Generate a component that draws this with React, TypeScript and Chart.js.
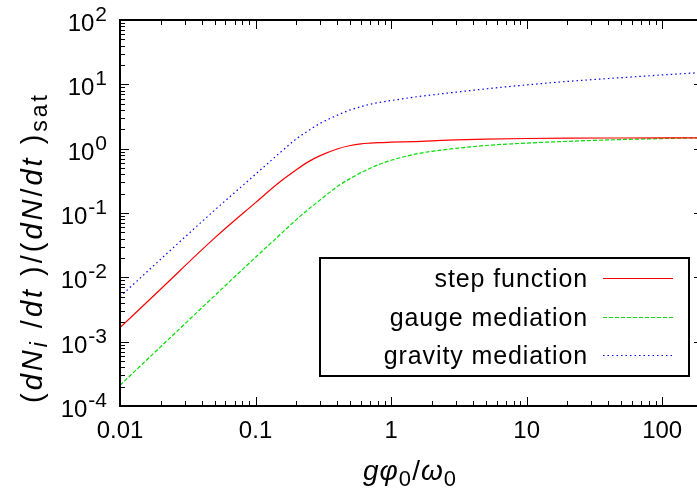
import { useEffect, useRef } from 'react';
import { Chart, registerables } from 'chart.js';
Chart.register(...registerables);

const xValues = [0.01, 0.02, 0.05, 0.1, 0.15, 0.2, 0.25, 0.3, 0.4, 0.5, 0.6, 0.7, 0.8, 1, 1.5, 2, 3, 5, 10, 20, 50, 100, 200];
const stepFunction = [0.00165, 0.0066, 0.041, 0.145, 0.3, 0.47, 0.64, 0.78, 0.99, 1.12, 1.19, 1.22, 1.24, 1.26, 1.29, 1.32, 1.37, 1.41, 1.44, 1.455, 1.465, 1.47, 1.475];
const gaugeMediation = [0.00021, 0.00084, 0.0052, 0.0205, 0.045, 0.079, 0.118, 0.16, 0.257, 0.345, 0.425, 0.495, 0.56, 0.66, 0.82, 0.91, 1.01, 1.12, 1.22, 1.3, 1.385, 1.435, 1.48];
const gravityMediation = [0.005, 0.0192, 0.111, 0.4, 0.85, 1.42, 1.95, 2.48, 3.3, 4.0, 4.5, 4.9, 5.2, 5.6, 6.35, 6.85, 7.55, 8.5, 9.8, 11.1, 12.7, 14.0, 15.3];
const seriesLabels = ['step function', 'gauge mediation', 'gravity mediation'];
const seriesColors = ['#ff0000', '#00e000', '#0000ff'];

const xTickValues = [0.01, 0.1, 1, 10, 100];
const xTickLabels = ['0.01', '0.1', '1', '10', '100'];
const yTickValues = [1e-4, 1e-3, 1e-2, 1e-1, 1, 10, 100];
const yTickExponents = ['-4', '-3', '-2', '-1', '0', '1', '2'];

const FONT = "'Liberation Sans', Arial, Helvetica, sans-serif";

type Seg = { t: string; it?: boolean; sub?: boolean };
const xTitle: Seg[] = [
  { t: 'g', it: true }, { t: 'φ', it: true }, { t: '0', sub: true }, { t: '/' }, { t: 'ω', it: true }, { t: '0', sub: true },
];
const yTitle: Seg[] = [
  { t: '(' }, { t: 'dN', it: true }, { t: 'i', it: true, sub: true }, { t: ' /' }, { t: 'dt', it: true }, { t: ' )/(' },
  { t: 'dN', it: true }, { t: '/' }, { t: 'dt', it: true }, { t: ' )' }, { t: 'sat', sub: true },
];

function segFont(s: Seg, size: number) {
  const sz = s.sub ? Math.round(size * 0.8) : size;
  return `${s.it ? 'italic ' : ''}${sz}px ${FONT}`;
}

function drawRich(ctx: CanvasRenderingContext2D, segs: Seg[], size: number, target: number, subShift: number) {
  let natural = 0;
  let chars = 0;
  (ctx as any).letterSpacing = '0px';
  for (const s of segs) {
    ctx.font = segFont(s, size);
    natural += ctx.measureText(s.t).width;
    chars += s.t.length;
  }
  const sp = Math.max(0, (target - natural) / chars);
  (ctx as any).letterSpacing = `${sp}px`;
  let x = 0;
  for (const s of segs) {
    ctx.font = segFont(s, size);
    ctx.fillText(s.t, x, s.sub ? subShift : 0);
    x += ctx.measureText(s.t).width;
  }
  (ctx as any).letterSpacing = '0px';
}

const framePlugin = {
  id: 'gnuFrame',
  afterDraw(chart: any) {
    const { ctx, chartArea: a, scales } = chart;
    const xs = scales.x;
    const ys = scales.y;
    ctx.save();
    ctx.strokeStyle = '#000';
    ctx.lineWidth = 1;
    ctx.beginPath();
    for (let d = -2; d <= 2; d++) {
      for (let m = 1; m <= 9; m++) {
        const v = m * Math.pow(10, d);
        if (v < xs.min * 0.999 || v > xs.max * 1.001) continue;
        const px = Math.round(xs.getPixelForValue(v)) + 0.5;
        const len = m === 1 ? 9 : 5;
        ctx.moveTo(px, a.bottom); ctx.lineTo(px, a.bottom - len);
        ctx.moveTo(px, a.top); ctx.lineTo(px, a.top + len);
      }
    }
    for (let d = -4; d <= 2; d++) {
      for (let m = 1; m <= 9; m++) {
        const v = m * Math.pow(10, d);
        if (v < ys.min * 0.999 || v > ys.max * 1.001) continue;
        const py = Math.round(ys.getPixelForValue(v)) + 0.5;
        const len = m === 1 ? 9 : 5;
        ctx.moveTo(a.left, py); ctx.lineTo(a.left + len, py);
        ctx.moveTo(a.right, py); ctx.lineTo(a.right - len, py);
      }
    }
    ctx.stroke();
    ctx.lineWidth = 2;
    ctx.strokeRect(a.left, a.top, a.right - a.left, a.bottom - a.top);

    // y tick labels (10 with superscript exponent)
    ctx.fillStyle = '#000';
    ctx.textBaseline = 'alphabetic';
    ctx.textAlign = 'left';
    yTickValues.forEach((v, i) => {
      const py = ys.getPixelForValue(v);
      const right = a.left - 13;
      ctx.font = `21px ${FONT}`;
      const w2 = ctx.measureText(yTickExponents[i]).width;
      ctx.font = `24px ${FONT}`;
      const w1 = ctx.measureText('10').width;
      ctx.fillText('10', right - w2 - w1 - 1, py + 11);
      ctx.font = `21px ${FONT}`;
      ctx.fillText(yTickExponents[i], right - w2, py + 1);
    });

    // axis titles
    ctx.save();
    ctx.translate(363, 480);
    drawRich(ctx, xTitle, 28, 94, 6);
    ctx.restore();
    ctx.save();
    ctx.translate(42, 403);
    ctx.rotate(-Math.PI / 2);
    drawRich(ctx, yTitle, 29, 311, 5);
    ctx.restore();

    // legend
    const lx = 320, ly = 258, lw = 369, lh = 118;
    ctx.lineWidth = 2;
    ctx.strokeStyle = '#000';
    ctx.strokeRect(lx, ly, lw, lh);
    const baselines = [287, 326, 364];
    chart.data.datasets.forEach((ds: any, i: number) => {
      ctx.font = `25px ${FONT}`;
      (ctx as any).letterSpacing = '0.9px';
      ctx.textAlign = 'right';
      ctx.fillStyle = '#000';
      ctx.fillText(ds.label, 588, baselines[i]);
      (ctx as any).letterSpacing = '0px';
      ctx.beginPath();
      ctx.strokeStyle = ds.borderColor;
      ctx.lineWidth = ds.borderWidth;
      ctx.setLineDash(ds.borderDash || []);
      const yy = baselines[i] - 8.5;
      ctx.moveTo(603, yy);
      ctx.lineTo(673, yy);
      ctx.stroke();
      ctx.setLineDash([]);
    });
    ctx.restore();
  },
};

export default function App() {
  const ref = useRef<HTMLCanvasElement>(null);
  useEffect(() => {
    if (!ref.current) return;
    const series = [stepFunction, gaugeMediation, gravityMediation];
    const dashes = [[], [4, 2], [1.5, 3]];
    const chart = new Chart(ref.current, {
      type: 'line',
      data: {
        datasets: series.map((s, i) => ({
          label: seriesLabels[i],
          data: xValues.map((x, j) => ({ x, y: s[j] })),
          borderColor: seriesColors[i],
          borderWidth: 1.2,
          borderDash: dashes[i],
          pointRadius: 0,
          fill: false,
          cubicInterpolationMode: 'monotone' as const,
        })),
      },
      options: {
        responsive: false,
        animation: false,
        devicePixelRatio: 1,
        layout: { padding: { left: 0, right: 7, top: 20, bottom: 0 } },
        plugins: { legend: { display: false }, tooltip: { enabled: false } },
        scales: {
          x: {
            type: 'logarithmic',
            min: 0.01,
            max: 200,
            grid: { display: false, drawTicks: false },
            border: { display: false },
            ticks: {
              autoSkip: false,
              maxRotation: 0,
              padding: 11,
              color: '#000',
              font: { family: FONT, size: 24 },
              callback: (v: any) => {
                const i = xTickValues.findIndex((t) => Math.abs(t - Number(v)) / t < 1e-6);
                return i >= 0 ? xTickLabels[i] : '';
              },
            },
            afterBuildTicks: (s: any) => { s.ticks = xTickValues.map((v) => ({ value: v })); },
            afterFit: (s: any) => { s.height = 87; s.paddingLeft = 0; s.paddingRight = 0; },
          },
          y: {
            type: 'logarithmic',
            min: 1e-4,
            max: 100,
            grid: { display: false, drawTicks: false },
            border: { display: false },
            ticks: { display: false },
            afterBuildTicks: (s: any) => { s.ticks = yTickValues.map((v) => ({ value: v })); },
            afterFit: (s: any) => { s.width = 120; },
          },
        },
      },
      plugins: [framePlugin],
    } as any);
    return () => chart.destroy();
  }, []);
  return (
    <div style={{ position: 'fixed', left: 0, top: 0, width: 697, height: 493, overflow: 'hidden', background: '#fff' }}>
      <canvas ref={ref} width={710} height={493} style={{ display: 'block' }} />
    </div>
  );
}
